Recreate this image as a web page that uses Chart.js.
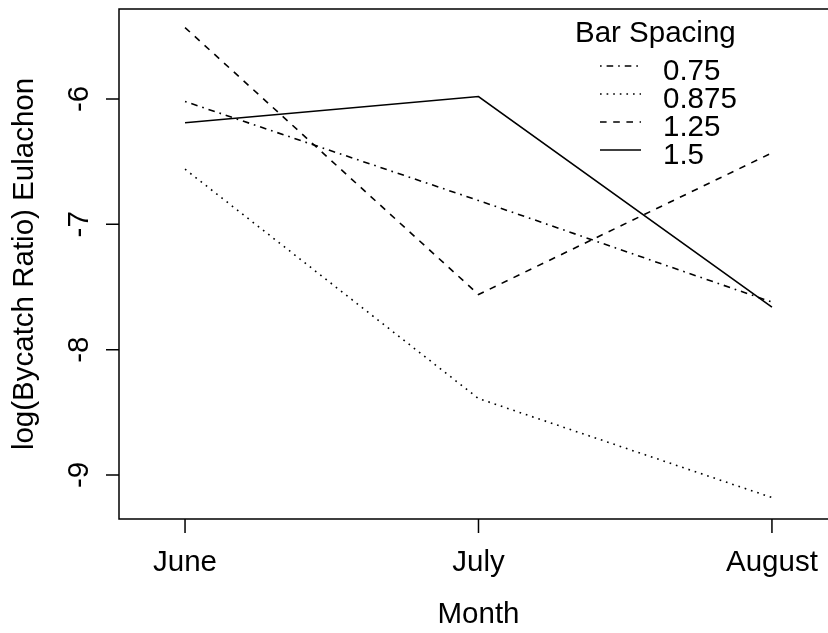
<!DOCTYPE html>
<html>
<head>
<meta charset="utf-8">
<script src="https://cdn.jsdelivr.net/npm/chart.js@4.4.1/dist/chart.umd.min.js"></script>
<style>
  html, body { margin: 0; padding: 0; background: #fff; overflow: hidden; }
  #wrap { width: 828px; height: 633px; }
</style>
</head>
<body>
<div id="wrap"><canvas id="plot"></canvas></div>
<script>
// Interaction plot: mean log bycatch ratio by month, one line per bar spacing
const months = ['June', 'July', 'August'];
const spacings = ['0.75', '0.875', '1.25', '1.5'];
const spacing075 = [-6.02, -6.81, -7.62];
const spacing0875 = [-6.56, -8.39, -9.18];
const spacing125 = [-5.43, -7.56, -6.43];
const spacing15 = [-6.19, -5.98, -7.66];
const yTicks = [-6, -7, -8, -9];

const FONT = '29.5px "Liberation Sans", Arial, sans-serif';
const U = 1.65; // R lty unit at this device scale
const dashes = [
  [U, 3 * U, 4 * U, 3 * U], // dotdash
  [U, 3 * U],               // dotted
  [4 * U, 4 * U],           // dashed
  []                        // solid
];
const seriesValues = [spacing075, spacing0875, spacing125, spacing15];

const datasets = spacings.map((s, i) => ({
  label: s,
  data: seriesValues[i].map((v, j) => ({ x: j + 1, y: v })),
  borderColor: '#000',
  borderWidth: 1.6,
  borderDash: dashes[i],
  borderCapStyle: 'butt',
  pointRadius: 0,
  tension: 0,
  fill: false
}));

// box, axes, ticks, labels and legend drawn R-style
const rFrame = {
  id: 'rFrame',
  afterDraw(chart) {
    const { ctx, chartArea: a, scales: { x, y } } = chart;
    ctx.save();
    ctx.strokeStyle = '#000';
    ctx.fillStyle = '#000';
    ctx.lineWidth = 1.5;

    // plot box (right side runs off the page)
    ctx.beginPath();
    ctx.moveTo(a.right + 2, a.top);
    ctx.lineTo(a.left, a.top);
    ctx.lineTo(a.left, a.bottom);
    ctx.lineTo(a.right + 2, a.bottom);
    ctx.stroke();

    // ticks
    const tl = 13;
    ctx.beginPath();
    yTicks.forEach(v => {
      const py = y.getPixelForValue(v);
      ctx.moveTo(a.left - tl, py);
      ctx.lineTo(a.left, py);
    });
    months.forEach((m, i) => {
      const px = x.getPixelForValue(i + 1);
      ctx.moveTo(px, a.bottom);
      ctx.lineTo(px, a.bottom + tl + 1);
    });
    ctx.stroke();

    ctx.font = FONT;

    // y tick labels, rotated
    ctx.textAlign = 'center';
    ctx.textBaseline = 'alphabetic';
    yTicks.forEach(v => {
      ctx.save();
      ctx.translate(88, y.getPixelForValue(v));
      ctx.rotate(-Math.PI / 2);
      ctx.fillText(String(v), 0, 0);
      ctx.restore();
    });

    // x tick labels
    months.forEach((m, i) => {
      ctx.fillText(m, x.getPixelForValue(i + 1), 571);
    });

    // axis titles
    ctx.fillText('Month', x.getPixelForValue(2), 623);
    ctx.save();
    ctx.translate(33, (a.top + a.bottom) / 2);
    ctx.rotate(-Math.PI / 2);
    ctx.fillText('log(Bycatch Ratio) Eulachon', 0, 0);
    ctx.restore();

    // legend
    ctx.textAlign = 'left';
    ctx.fillText('Bar Spacing', 575, 42);
    chart.data.datasets.forEach((ds, i) => {
      const ly = 66 + i * 28;
      ctx.save();
      ctx.lineWidth = ds.borderWidth;
      ctx.setLineDash(ds.borderDash);
      ctx.lineCap = 'butt';
      ctx.beginPath();
      ctx.moveTo(600, ly);
      ctx.lineTo(641, ly);
      ctx.stroke();
      ctx.restore();
      ctx.fillText(ds.label, 663, ly + 14);
    });

    ctx.restore();
  }
};

new Chart(document.getElementById('plot'), {
  type: 'line',
  data: { datasets },
  options: {
    responsive: true,
    maintainAspectRatio: false,
    animation: false,
    layout: { padding: { left: 119, top: 9, right: 0, bottom: 114 } },
    plugins: { legend: { display: false }, tooltip: { enabled: false } },
    scales: {
      x: { type: 'linear', min: 0.775, max: 3.191, display: false },
      y: { type: 'linear', min: -9.351, max: -5.282, display: false }
    }
  },
  plugins: [rFrame]
});
</script>
</body>
</html>
